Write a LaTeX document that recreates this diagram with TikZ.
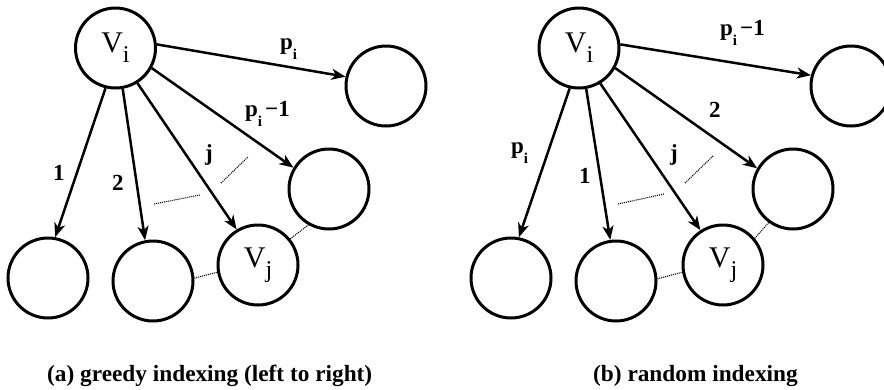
\documentclass[tikz,border=0pt]{standalone}
\usepackage{fontspec}
\setmainfont{Liberation Serif}
\usetikzlibrary{arrows.meta}
\newcommand\nodelbl[2]{{\fontsize{30}{30}\selectfont #1}\raisebox{-10pt}{\fontsize{24}{24}\selectfont #2}}
\newcommand\edgesub[1]{\raisebox{-10pt}{\fontsize{15}{15}\selectfont\bfseries #1}}
\tikzset{
  vtx/.style={circle, draw, line width=3pt, minimum size=80pt, inner sep=0pt},
  edge/.style={line width=2.5pt, -{Stealth[length=14pt,width=11pt,inset=4pt]}},
  dots/.style={line width=1.1pt, dash pattern=on 1pt off 1pt},
  elbl/.style={anchor=base west, inner sep=0pt, font=\fontsize{23}{23}\selectfont\bfseries},
  captxt/.style={anchor=base west, inner sep=0pt, font=\fontsize{23.3}{23.3}\selectfont\bfseries},
}
\begin{document}
\begin{tikzpicture}[x=1pt,y=-1pt]
\clip (0,0) rectangle (884,389);
% ---------- panel (a)
\node[vtx] (ai) at (115.5,48) {\nodelbl{V}{i}};
\node[vtx] (ap) at (386,86) {};
\node[vtx] (aq) at (329,189) {};
\node[vtx] (aj) at (258,265) {\nodelbl{V}{j}};
\node[vtx] (a2) at (153,281) {};
\node[vtx] (a1) at (48,278) {};
\draw[edge] (ai.5.5) -- (ap.167);
\draw[edge] (ai.331.3) -- (aq.149);
\draw[edge] (ai.302.3) -- (aj.121);
\draw[edge] (ai.280.6) -- (a2.101);
\draw[edge] (ai.256.6) -- (a1.80);
\draw[dots] (a2.4) -- (aj.190);
\draw[dots] (aj.39) -- (aq.240);
\coordinate (ad1) at (154,204); \coordinate (ad2) at (200,195);
\coordinate (ad3) at (221,183); \coordinate (ad4) at (248,157);
\draw[dots] (ad1) -- (ad2);
\draw[dots] (ad3) -- (ad4);
\node[elbl] (la1) at (280,49) {p\edgesub{i}};
\node[elbl] (la2) at (245,116) {p\edgesub{i}\hspace{3pt}−1};
\node[elbl] (la3) at (205,160) {j};
\node[elbl] (la4) at (53,180) {1};
\node[elbl] (la5) at (112,190) {2};
% ---------- panel (b)
\node[vtx] (bi) at (579,48) {\nodelbl{V}{i}};
\node[vtx] (bp) at (851,86) {};
\node[vtx] (bq) at (793,189) {};
\node[vtx] (bj) at (723,265) {\nodelbl{V}{j}};
\node[vtx] (b2) at (616,281) {};
\node[vtx] (b1) at (511,278) {};
\draw[edge] (bi.5.6) -- (bp.165.6);
\draw[edge] (bi.331) -- (bq.150);
\draw[edge] (bi.301.7) -- (bj.123);
\draw[edge] (bi.280) -- (b2.98);
\draw[edge] (bi.257.3) -- (b1.79);
\draw[dots] (b2.3) -- (bj.190);
\draw[dots] (bj.40) -- (bq.234);
\coordinate (bd1) at (618,204); \coordinate (bd2) at (664,194);
\coordinate (bd3) at (685,183); \coordinate (bd4) at (713,156);
\draw[dots] (bd1) -- (bd2);
\draw[dots] (bd3) -- (bd4);
\node[elbl] (lb1) at (720,35) {p\edgesub{i}\hspace{3pt}−1};
\node[elbl] (lb2) at (709,117) {2};
\node[elbl] (lb3) at (670,160) {j};
\node[elbl] (lb4) at (579,183) {1};
\node[elbl] (lb5) at (511,153) {p\edgesub{i}};
% ---------- captions
\node[captxt] (capa) at (47,381) {(a) greedy indexing (left to right)};
\node[captxt] (capb) at (593,381) {(b) random indexing};
\end{tikzpicture}
\end{document}
